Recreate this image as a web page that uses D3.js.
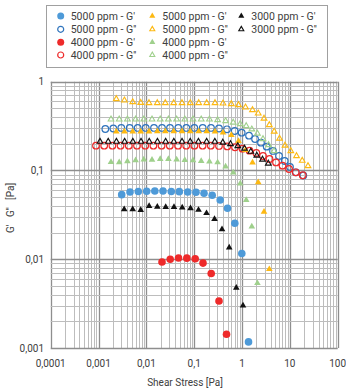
<!DOCTYPE html>
<html>
<head>
<meta charset="utf-8">
<script src="https://cdn.jsdelivr.net/npm/d3@7"></script>
<style>
  body { margin: 0; background: #fff; }
  svg text { font-family: Roboto, 'DejaVu Sans', sans-serif; fill: #404040; }
</style>
</head>
<body>
<div id="chart"></div>
<script>
// axis ticks
const xTicks = [1e-4, 1e-3, 0.01, 0.1, 1, 10, 100]
const xTickLabels = ["0,0001", "0,001", "0,01", "0,1", "1", "10", "100"]
const yTicks = [0.001, 0.01, 0.1, 1]
const yTickLabels = ["0,001", "0,01", "0,1", "1"]

// 5000 ppm circles
const c5000Gp_x = [0.00305, 0.00455, 0.00678, 0.01016, 0.01502, 0.02228, 0.0332, 0.0488, 0.0731, 0.1091, 0.1604, 0.2379, 0.3498, 0.497, 0.706, 0.989, 1.366]
const c5000Gp_y = [0.0534, 0.0573, 0.0580, 0.0583, 0.0588, 0.0588, 0.0580, 0.0577, 0.0573, 0.0568, 0.0554, 0.0526, 0.0465, 0.0376, 0.0254, 0.01162, 0.001172]
const c5000Gpp_x = [0.001386, 0.002037, 0.00299, 0.00448, 0.00659, 0.00969, 0.01444, 0.02123, 0.0312, 0.0465, 0.0684, 0.1005, 0.1507, 0.2246, 0.330, 0.485, 0.703, 0.984, 1.40, 1.87, 2.49, 3.28, 4.44, 5.93, 7.80, 10.07, 13.4, 19.1]
const c5000Gpp_y = [0.2933, 0.2972, 0.3011, 0.3011, 0.3011, 0.3011, 0.3011, 0.3011, 0.3011, 0.3011, 0.3011, 0.3011, 0.3011, 0.3011, 0.2972, 0.2911, 0.2785, 0.2665, 0.2465, 0.2263, 0.2056, 0.1854, 0.1658, 0.1456, 0.1279, 0.1095, 0.0954, 0.0878]

// 4000 ppm circles
const c4000Gp_x = [0.02123, 0.0315, 0.0470, 0.0701, 0.1050, 0.1528, 0.2268, 0.330, 0.4737]
const c4000Gp_y = [0.00932, 0.0100, 0.01034, 0.01029, 0.01013, 0.00904, 0.00692, 0.00339, 0.00143]
const c4000Gpp_x = [0.000885, 0.001313, 0.00195, 0.00289, 0.00429, 0.00637, 0.00946, 0.01403, 0.0208, 0.0309, 0.0459, 0.0681, 0.1010, 0.1499, 0.2225, 0.330, 0.490, 0.713, 1.023, 1.433, 1.989, 2.745, 3.754, 5.13, 7.02, 9.60, 13.25, 18.57]
const c4000Gpp_y = [0.1902, 0.1902, 0.1902, 0.1902, 0.1902, 0.1902, 0.1902, 0.1902, 0.1902, 0.1902, 0.1902, 0.1902, 0.1902, 0.1902, 0.1902, 0.1888, 0.1864, 0.1826, 0.1760, 0.1671, 0.1574, 0.1456, 0.1347, 0.1231, 0.1133, 0.1039, 0.0954, 0.0883]

// 5000 ppm triangles
const t5000_x = [0.002352, 0.003475, 0.00518, 0.00762, 0.01135, 0.01694, 0.02489, 0.0373, 0.0556, 0.0829, 0.1243, 0.1826, 0.2724, 0.4003, 0.597, 0.844, 1.182, 1.656, 2.179, 2.882, 3.719, 4.707, 6.076, 7.916, 10.47, 13.78, 18.13, 23.96]
const t5000Gp_y = [0.2735, 0.2735, 0.2735, 0.2735, 0.2735, 0.2764, 0.2764, 0.2764, 0.2764, 0.2764, 0.2764, 0.2764, 0.2735, 0.2679, 0.2511, 0.2149, 0.1702, 0.1224, 0.0733, 0.0341, 0.00772]
const t5000Gpp_y = [0.6385, 0.6172, 0.5905, 0.5800, 0.5755, 0.5755, 0.5755, 0.5755, 0.5755, 0.5755, 0.5755, 0.5755, 0.5755, 0.5711, 0.5607, 0.5463, 0.5148, 0.4801, 0.4406, 0.3850, 0.3254, 0.2749, 0.2293, 0.1912, 0.1658, 0.1456, 0.1289, 0.1123]

// 4000 ppm triangles
const t4000_x = [0.001823, 0.002705, 0.004015, 0.005957, 0.00884, 0.01312, 0.01947, 0.0289, 0.0429, 0.0636, 0.0944, 0.1401, 0.2080, 0.3086, 0.4536, 0.654, 0.916, 1.223, 1.601, 2.097, 2.745, 3.594, 4.662]
const t4000Gp_y = [0.1246, 0.1237, 0.1270, 0.1297, 0.1330, 0.1320, 0.1341, 0.1347, 0.1330, 0.1313, 0.1297, 0.1279, 0.1263, 0.1231, 0.1109, 0.0945, 0.0710, 0.0463, 0.0233, 0.00537]
const t4000Gpp_y = [0.3772, 0.3772, 0.3772, 0.3772, 0.3772, 0.3772, 0.3772, 0.3772, 0.3772, 0.3772, 0.3772, 0.3772, 0.3772, 0.3704, 0.3607, 0.3471, 0.3340, 0.3171, 0.2911, 0.2610, 0.2263, 0.1937, 0.1658]

// 3000 ppm triangles
const t3000Gp_x = [0.00344, 0.00518, 0.00762, 0.01141, 0.01694, 0.02538, 0.0378, 0.0561, 0.0837, 0.1231, 0.1809, 0.2659, 0.3815, 0.5395, 0.759, 1.048]
const t3000Gp_y = [0.0366, 0.0366, 0.0357, 0.0396, 0.0390, 0.0386, 0.0386, 0.0383, 0.0375, 0.0359, 0.0330, 0.0284, 0.02177, 0.01351, 0.00475, 0.0030]
const t3000Gpp_x = [0.001073, 0.001593, 0.002364, 0.003509, 0.00521, 0.00773, 0.01147, 0.01702, 0.02526, 0.0375, 0.0556, 0.0825, 0.1225, 0.1818, 0.2698, 0.3965, 0.574, 0.816, 1.127, 1.526, 2.037, 2.681, 3.543]
const t3000Gpp_y = [0.2111, 0.2111, 0.2111, 0.2111, 0.2111, 0.2111, 0.2111, 0.2111, 0.2111, 0.2111, 0.2111, 0.2111, 0.2111, 0.2111, 0.2111, 0.2067, 0.1988, 0.1888, 0.1769, 0.1628, 0.1475, 0.1330, 0.1199]

const seriesL = [
  { name: "5000 ppm - G'", x: c5000Gp_x, y: c5000Gp_y, col: "#4e9ad8", shape: "circle", fill: true },
  { name: "5000 ppm - G''", x: c5000Gpp_x, y: c5000Gpp_y, col: "#2f74bd", shape: "circle", fill: false },
  { name: "4000 ppm - G'", x: c4000Gp_x, y: c4000Gp_y, col: "#ee2a2a", shape: "circle", fill: true },
  { name: "4000 ppm - G''", x: c4000Gpp_x, y: c4000Gpp_y, col: "#ee2a2a", shape: "circle", fill: false },
  { name: "5000 ppm - G'", x: t5000_x, y: t5000Gp_y, col: "#fdb912", shape: "tri", fill: true },
  { name: "5000 ppm - G''", x: t5000_x, y: t5000Gpp_y, col: "#fdb912", shape: "tri", fill: false },
  { name: "4000 ppm - G'", x: t4000_x, y: t4000Gp_y, col: "#9fd08c", shape: "tri", fill: true },
  { name: "4000 ppm - G''", x: t4000_x, y: t4000Gpp_y, col: "#9fd08c", shape: "tri", fill: false },
  { name: "3000 ppm - G'", x: t3000Gp_x, y: t3000Gp_y, col: "#111", shape: "tri", fill: true },
  { name: "3000 ppm - G''", x: t3000Gpp_x, y: t3000Gpp_y, col: "#111", shape: "tri", fill: false }
]

const W = 346, H = 391
const box = { l: 50.7, r: 337.7, t: 81.7, b: 348 }

const x = d3.scaleLog().domain([1e-4, 100]).range([box.l, box.r])
const y = d3.scaleLog().domain([0.001, 1]).range([box.b, box.t])
const px = v => Math.round(x(v)) + 0.5
const py = v => Math.round(y(v)) + 0.5

const svg = d3.select("#chart").append("svg")
  .attr("width", W).attr("height", H)

// grid
const grid = svg.append("g")
const isMajor = v => Math.abs(Math.log10(v) - Math.round(Math.log10(v))) < 1e-6
grid.selectAll(".gx").data(x.ticks()).join("line")
  .attr("x1", d => px(d)).attr("x2", d => px(d))
  .attr("y1", box.t).attr("y2", box.b)
  .attr("stroke", d => isMajor(d) ? "#8e8e8e" : "#bdbdbd")
  .attr("stroke-width", d => isMajor(d) ? 1.3 : 1)
grid.selectAll(".gy").data(y.ticks()).join("line")
  .attr("y1", d => py(d)).attr("y2", d => py(d))
  .attr("x1", box.l).attr("x2", box.r)
  .attr("stroke", d => isMajor(d) ? "#8e8e8e" : "#bdbdbd")
  .attr("stroke-width", d => isMajor(d) ? 1.3 : 1)

// tick labels
svg.append("g").selectAll("text").data(xTicks).join("text")
  .attr("x", d => x(d)).attr("y", 367)
  .attr("text-anchor", "middle")
  .attr("font-size", "10px")
  .text((d, i) => xTickLabels[i])
svg.append("g").selectAll("text").data(yTicks).join("text")
  .attr("x", 44).attr("y", d => y(d) + 3.5)
  .attr("text-anchor", "end")
  .attr("font-size", "10px")
  .text((d, i) => yTickLabels[i])

// axis titles
svg.append("text").attr("x", 185).attr("y", 386)
  .attr("text-anchor", "middle").attr("font-size", "10px")
  .text("Shear Stress [Pa]")
svg.append("text")
  .attr("transform", `translate(14,208) rotate(-90)`)
  .attr("text-anchor", "middle").attr("font-size", "10px")
  .attr("xml:space", "preserve")
  .text("G'   G''   [Pa]")

// marks
function drawMark(sel, s, small) {
  if (s.shape == "circle") {
    sel.append("circle")
      .attr("r", s.fill ? (small ? 3.5 : 3.8) : (small ? 3 : 3.3))
      .attr("fill", s.fill ? s.col : "none")
      .attr("stroke", s.fill ? "none" : s.col)
      .attr("stroke-width", 1.2)
  } else {
    sel.append("path")
      .attr("d", d3.symbol().type(d3.symbolTriangle).size(s.fill ? (small ? 16 : 19) : (small ? 11 : 14))())
      .attr("fill", s.fill ? s.col : "none")
      .attr("stroke", s.fill ? "none" : s.col)
      .attr("stroke-width", 1.1)
  }
}

const plot = svg.append("g")
seriesL.forEach(s => {
  const pts = s.y.map((v, i) => [s.x[i], v])
  const g = plot.append("g").selectAll("g").data(pts).join("g")
    .attr("transform", d => `translate(${x(d[0])},${y(d[1])})`)
  drawMark(g, s, false)
})

// legend
svg.append("rect")
  .attr("x", 46.5).attr("y", 5.5).attr("width", 281).attr("height", 62)
  .attr("fill", "#fff").attr("stroke", "#a0a0a0")
const legCols = [60.7, 152.3, 241.3]
const legRows = [16, 29.3, 42.3, 55]
const leg = svg.append("g").selectAll("g").data(seriesL).join("g")
  .attr("transform", (d, i) => `translate(${legCols[Math.floor(i / 4)]},${legRows[i % 4]})`)
leg.each(function (d) { drawMark(d3.select(this), d, true) })
leg.append("text")
  .attr("x", 10).attr("y", 3.6)
  .attr("font-size", "10.5px")
  .text(d => d.name)
</script>
</body>
</html>
